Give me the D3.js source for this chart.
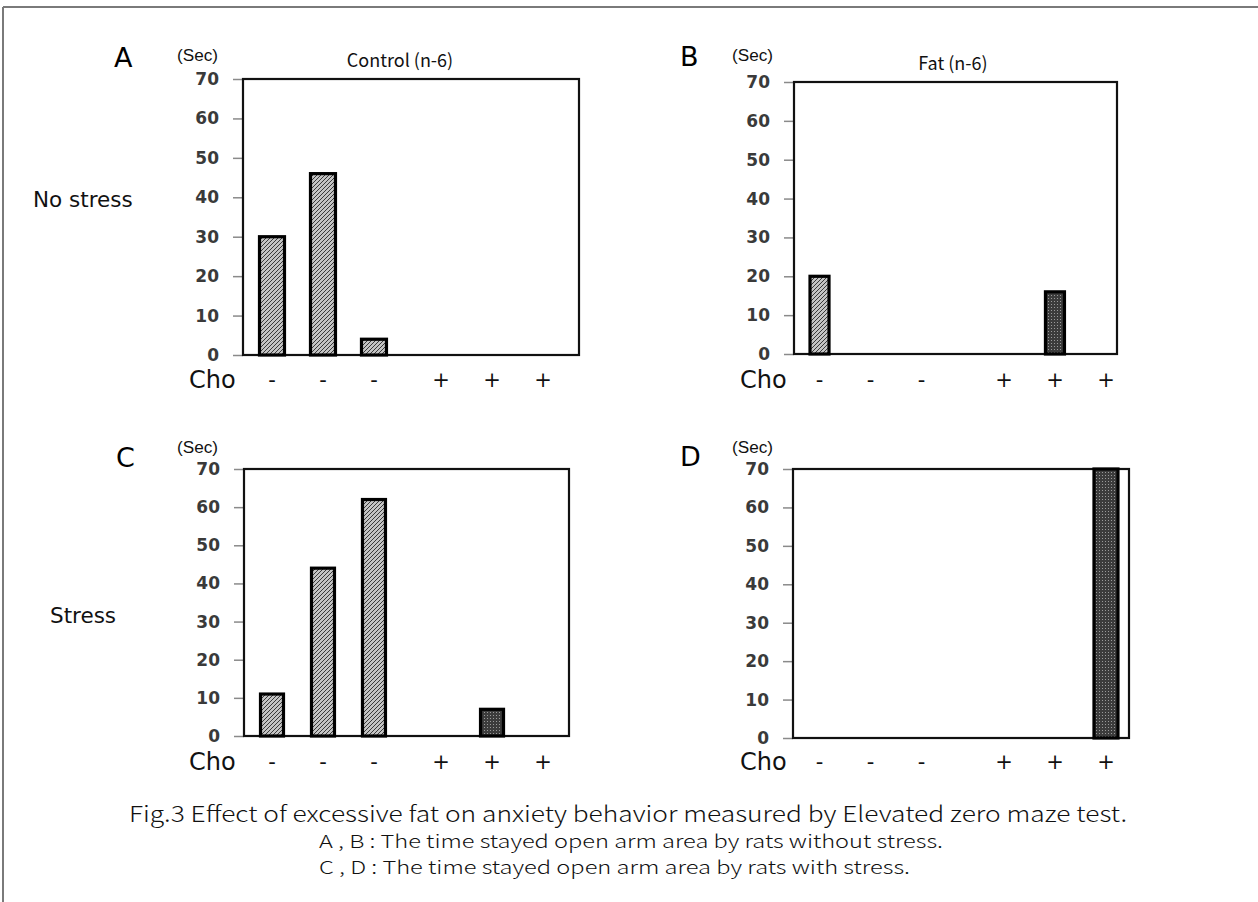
<!DOCTYPE html>
<html>
<head>
<meta charset="utf-8">
<script src="https://cdnjs.cloudflare.com/ajax/libs/d3/7.8.5/d3.min.js"></script>
<style>
  body { margin: 0; background: #fff; }
</style>
</head>
<body>
<div id="dataviz"></div>
<script>
let w = 1258;
let h = 902;

// chart values
const choLabels = ["-", "-", "-", "+", "+", "+"];
const choGroups = ["-", "+"];
const yTicks = [0, 10, 20, 30, 40, 50, 60, 70];
const controlNoStress = [30, 46, 4, 0, 0, 0];
const fatNoStress = [20, 0, 0, 0, 16, 0];
const controlStress = [11, 44, 62, 0, 7, 0];
const fatStress = [0, 0, 0, 0, 0, 70];
const rowLabels = ["No stress", "Stress"];
const captionLines = [
  "Fig.3  Effect of excessive fat on anxiety behavior measured by Elevated zero maze test.",
  "A , B : The time stayed open arm area by rats without stress.",
  "C , D : The time stayed open arm area by rats with stress."
];

// layout of each panel
const panels = [
  {letter: "A", title: "Control (n-6)", values: controlNoStress,
   left: 243, right: 579, top: 79, bottom: 355, groupX: [246.5, 568.5], gap: 0.095, barW: 25,
   letterX: 114, letterY: 67, secX: 177, secY: 61, titleX: 400, titleY: 67, choX: 189, choY: 388},
  {letter: "B", title: "Fat (n-6)", values: fatNoStress,
   left: 794, right: 1117, top: 82, bottom: 354, groupX: [794, 1131.5], gap: 0.17, barW: 19,
   letterX: 680, letterY: 66, secX: 732, secY: 61, titleX: 953, titleY: 70, choX: 740, choY: 388},
  {letter: "C", title: "", values: controlStress,
   left: 244, right: 569, top: 469, bottom: 736, groupX: [246.5, 568.5], gap: 0.095, barW: 23,
   letterX: 116, letterY: 467, secX: 177, secY: 453, titleX: 0, titleY: 0, choX: 189, choY: 770},
  {letter: "D", title: "", values: fatStress,
   left: 793, right: 1129, top: 469, bottom: 738, groupX: [794, 1131.5], gap: 0.17, barW: 24,
   letterX: 680, letterY: 466, secX: 732, secY: 453, titleX: 0, titleY: 0, choX: 740, choY: 770}
];

const svg = d3.select("#dataviz").
append("svg").
attr("width", w).
attr("height", h).
style("display", "block");

// fill patterns: hatched for Cho -, stippled for Cho +
const defs = svg.append("defs");
const hatch = defs.append("pattern").
attr("id", "hatch").
attr("patternUnits", "userSpaceOnUse").
attr("width", 4).
attr("height", 4);
hatch.append("rect").attr("width", 4).attr("height", 4).attr("fill", "#c4c4c4");
hatch.append("path").
attr("d", "M-1,1 L1,-1 M0,4 L4,0 M3,5 L5,3").
attr("stroke", "#3a3a3a").
attr("stroke-width", 1);

const dots = defs.append("pattern").
attr("id", "dots").
attr("patternUnits", "userSpaceOnUse").
attr("width", 3).
attr("height", 3);
dots.append("rect").attr("width", 3).attr("height", 3).attr("fill", "#3c3c3c");
dots.append("rect").attr("x", 1).attr("y", 1).attr("width", 1).attr("height", 1).attr("fill", "#9a9a9a");

// outer page frame (top and left only)
svg.append("line").
attr("x1", 3).attr("y1", 7).attr("x2", w).attr("y2", 7).
attr("stroke", "#7a7a7a").attr("stroke-width", 2);
svg.append("line").
attr("x1", 3).attr("y1", 7).attr("x2", 3).attr("y2", h).
attr("stroke", "#7a7a7a").attr("stroke-width", 2);

panels.forEach(p => {
  const g = svg.append("g");

  const yScale = d3.scaleLinear().
  domain([0, 70]).
  range([p.bottom, p.top]);

  // two groups (Cho - / Cho +), three rats each
  const outer = d3.scaleBand().
  domain(choGroups).
  range(p.groupX).
  paddingInner(p.gap);
  const inner = d3.scaleBand().
  domain([0, 1, 2]).
  range([0, outer.bandwidth()]);
  const xCenter = i => outer(choLabels[i]) + inner(i % 3) + inner.bandwidth() / 2;

  // y axis
  const yAxis = d3.axisLeft(yScale).
  tickValues(yTicks).
  tickSize(10).
  tickPadding(14);
  const ax = g.append("g").
  attr("transform", "translate(" + p.left + ",0)").
  call(yAxis);
  ax.select(".domain").remove();
  ax.selectAll(".tick line").attr("stroke", "#8a8a8a").attr("stroke-width", 1.5);
  ax.selectAll(".tick text").
  attr("fill", "#3a3a3a").
  style("font-family", "DejaVu Sans").
  style("font-weight", "bold").
  style("font-size", "17px");

  // plot frame
  g.append("rect").
  attr("x", p.left).
  attr("y", p.top).
  attr("width", p.right - p.left).
  attr("height", p.bottom - p.top).
  attr("fill", "none").
  attr("stroke", "#111").
  attr("stroke-width", 2.2);

  // bars
  g.selectAll(".bar").
  data(p.values.map((v, i) => ({v: v, i: i})).filter(d => d.v > 0)).
  enter().
  append("rect").
  attr("class", "bar").
  attr("x", d => xCenter(d.i) - p.barW / 2).
  attr("y", d => yScale(d.v)).
  attr("width", p.barW).
  attr("height", d => yScale(0) - yScale(d.v)).
  attr("fill", d => choLabels[d.i] === "-" ? "url(#hatch)" : "url(#dots)").
  attr("stroke", "#000").
  attr("stroke-width", 3.2);

  // Cho row
  g.append("text").
  attr("x", p.choX).
  attr("y", p.choY).
  style("font-family", "DejaVu Sans").
  style("font-size", "24px").
  attr("fill", "#111").
  text("Cho");
  g.selectAll(".cho").
  data(choLabels).
  enter().
  append("text").
  attr("class", "cho").
  attr("x", (d, i) => xCenter(i)).
  attr("y", p.choY - 1).
  attr("text-anchor", "middle").
  style("font-family", "DejaVu Sans").
  style("font-size", "21px").
  attr("fill", "#111").
  text(d => d);

  // panel letter, unit, title
  g.append("text").
  attr("x", p.letterX).
  attr("y", p.letterY).
  style("font-family", "DejaVu Sans").
  style("font-size", "27px").
  attr("fill", "#000").
  text(p.letter);
  g.append("text").
  attr("x", p.secX).
  attr("y", p.secY).
  style("font-family", "Liberation Sans Narrow, Liberation Sans").
  style("font-size", "16px").
  attr("textLength", 41).
  attr("lengthAdjust", "spacingAndGlyphs").
  attr("fill", "#111").
  text("(Sec)");
  if (p.title) {
    g.append("text").
    attr("x", p.titleX).
    attr("y", p.titleY).
    attr("text-anchor", "middle").
    style("font-family", "Noto Sans CJK JP").
    style("font-size", "18px").
    attr("fill", "#111").
    text(p.title);
  }
});

// row labels
svg.append("text").
attr("x", 33).
attr("y", 207).
style("font-family", "DejaVu Sans").
style("font-size", "21.5px").
attr("fill", "#111").
text(rowLabels[0]);
svg.append("text").
attr("x", 50).
attr("y", 623).
style("font-family", "DejaVu Sans").
style("font-size", "21.5px").
attr("fill", "#111").
text(rowLabels[1]);

// caption
const capX = [129, 319, 319];
const capY = [822, 848, 874];
const capLen = [998, 624, 591];
const capSize = [22, 18, 18];
svg.selectAll(".caption").
data(captionLines).
enter().
append("text").
attr("class", "caption").
attr("x", (d, i) => capX[i]).
attr("y", (d, i) => capY[i]).
attr("textLength", (d, i) => capLen[i]).
attr("lengthAdjust", "spacingAndGlyphs").
style("font-family", "Noto Sans CJK JP").
style("font-weight", "300").
style("font-size", (d, i) => capSize[i] + "px").
attr("fill", "#111").
text(d => d);
</script>
</body>
</html>
